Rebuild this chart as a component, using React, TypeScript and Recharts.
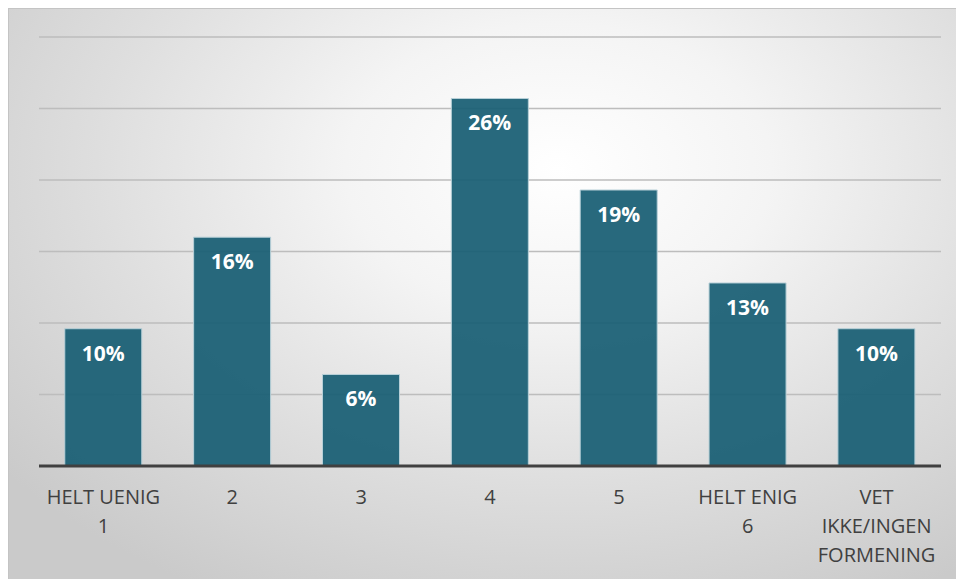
import React from "react";
import { BarChart, Bar, XAxis, YAxis, CartesianGrid, LabelList } from "recharts";

const categories = ["HELT UENIG\n1", "2", "3", "4", "5", "HELT ENIG\n6", "VET\nIKKE/INGEN\nFORMENING"];
const shares = [9.6, 16.0, 6.4, 25.7, 19.3, 12.8, 9.6];
const yTicks = [0, 5, 10, 15, 20, 25, 30];

const data = categories.map((c, i) => ({ name: c, value: shares[i] }));

const Tick = (props: any) => {
  const { x, y, payload } = props;
  const lines = String(payload.value).split("\n");
  return (
    <g transform={`translate(${x},${y})`}>
      {lines.map((l, i) => (
        <text
          key={i}
          x={0}
          y={30 + i * 29}
          textAnchor="middle"
          fill="#404040"
          fontSize={20}
          fontFamily="'Open Sans', 'Noto Sans', sans-serif"
        >
          {l}
        </text>
      ))}
    </g>
  );
};

export default function App() {
  return (
    <>
      <style>{`html,body{margin:0;overflow:hidden}`}</style>
      <div
        style={{
          position: "absolute",
          left: 8,
          top: 8,
          width: 947,
          height: 570,
          borderTop: "1px solid #c4c4c4",
          borderLeft: "1px solid #c4c4c4",
          background:
            "radial-gradient(ellipse 75% 85% at 58% 28%, #ffffff 0%, #f4f4f4 30%, #dedede 65%, #cacaca 100%)",
        }}
      >
        <BarChart
          width={947}
          height={570}
          data={data}
          margin={{ top: 28, right: 15, bottom: 13, left: 30 }}
          barCategoryGap="20%"
        >
          <CartesianGrid vertical={false} stroke="#bdbdbd" strokeWidth={1.5} />
          <YAxis hide domain={[0, 30]} ticks={yTicks} width={0} />
          <XAxis
            dataKey="name"
            interval={0}
            tickLine={false}
            axisLine={{ stroke: "#404040", strokeWidth: 3 }}
            tick={<Tick />}
            height={100}
          />
          <Bar dataKey="value" fill="#1b6075" fillOpacity={0.94} stroke="#b8d0d8" strokeWidth={1} isAnimationActive={false}>
            <LabelList
              dataKey="value"
              position="insideTop"
              offset={17}
              formatter={(v: any) => `${Math.round(v)}%`}
              fill="#ffffff"
              fontSize={21}
              fontWeight="bold"
              fontFamily="'Open Sans', 'Noto Sans', sans-serif"
            />
          </Bar>
        </BarChart>
      </div>
    </>
  );
}
